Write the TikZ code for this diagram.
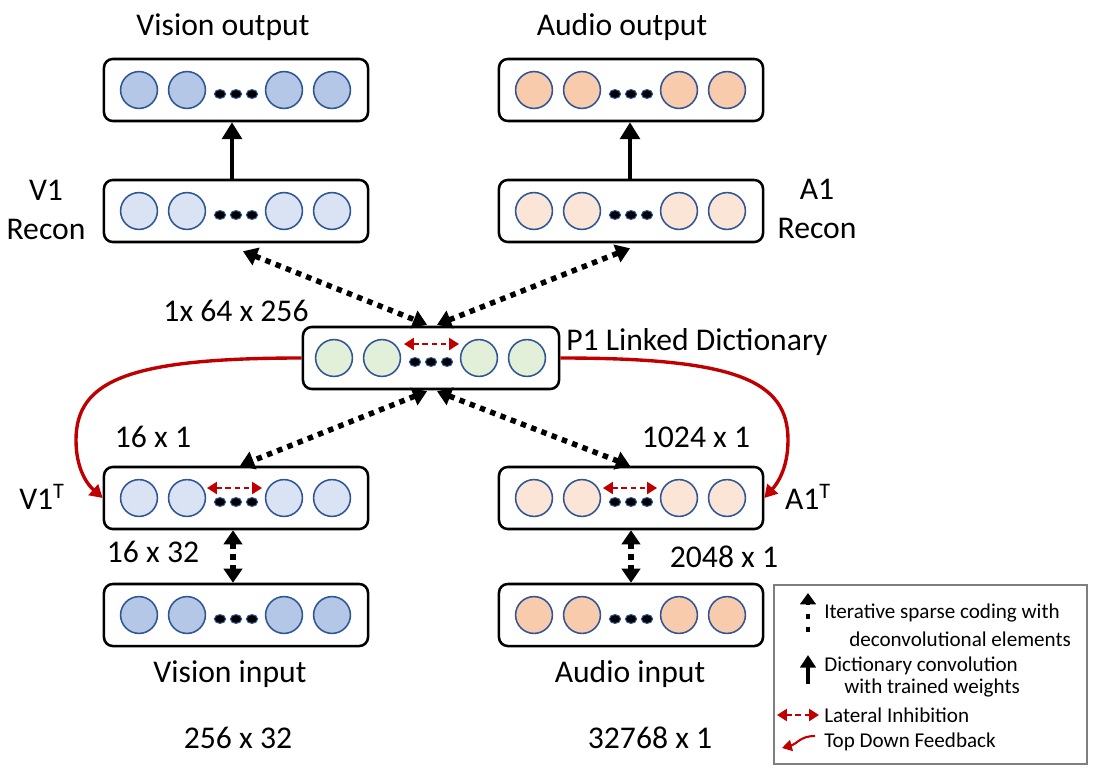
\documentclass[tikz,border=0pt]{standalone}
\usepackage{fontspec}
\setmainfont{Carlito}
\usetikzlibrary{arrows.meta,calc}
\definecolor{vdark}{HTML}{B4C7E7}
\definecolor{vlight}{HTML}{DAE3F3}
\definecolor{adark}{HTML}{F8CBAD}
\definecolor{alight}{HTML}{FBE5D6}
\definecolor{pgreen}{HTML}{E2F0D9}
\definecolor{cborder}{HTML}{2F5597}
\definecolor{cred}{HTML}{C00000}
\definecolor{lgray}{HTML}{7F7F7F}
\newcommand\unitrow[2]{%
  \foreach \dx in {-97,-49,48,96} \draw[unitc, fill=#2] ($(#1.center)+(\dx,0)$) circle[radius=0.46cm];
  \foreach \dx in {-16,0,16} \filldraw[fill=black, draw=cborder, line width=0.7pt] ($(#1.center)+(\dx,4)$) circle[x radius=0.14cm, y radius=0.11cm];
}
\begin{document}
\begin{tikzpicture}[x=0.025cm,y=-0.025cm,
  box/.style={draw, line width=1.8pt, rounded corners=0.22cm, minimum width=6.6cm, minimum height=1.55cm, inner sep=0pt, fill=white},
  lbl/.style={font=\fontsize{22.5}{27.7}\selectfont, inner sep=0pt, align=center},
  leg/.style={font=\fontsize{15}{18}\selectfont, inner sep=0pt, anchor=west},
  unitc/.style={draw=cborder, line width=1.1pt},
  dotarrow/.style={line width=3.9pt, dash pattern=on 3.9pt off 3.9pt, {Triangle[length=10pt,width=13pt]}-{Triangle[length=10pt,width=13pt]}},
  solidarrow/.style={line width=2.8pt, -{Triangle[length=12pt,width=14pt]}},
  lat/.style={draw=cred, line width=1.5pt, dash pattern=on 4pt off 2.5pt, {Triangle[length=7pt,width=8.5pt]}-{Triangle[length=7pt,width=8.5pt]}},
  fb/.style={draw=cred, line width=2.4pt, -{Triangle[length=9pt,width=10pt]}},
]
\useasboundingbox[fill=white] (0,0) rectangle (1104,776);

% boxes
\node[box] (VO) at (236,90) {};
\node[box] (AO) at (631,90) {};
\node[box] (V1R) at (236,211) {};
\node[box] (A1R) at (631,211) {};
\node[box, minimum width=6.4cm] (P1) at (431,358) {};
\node[box] (V1T) at (236,498) {};
\node[box] (A1T) at (631,498) {};
\node[box] (VI) at (236,615) {};
\node[box] (AI) at (631,615) {};

\unitrow{VO}{vdark}
\unitrow{AO}{adark}
\unitrow{V1R}{vlight}
\unitrow{A1R}{alight}
\unitrow{P1}{pgreen}
\unitrow{V1T}{vlight}
\unitrow{A1T}{alight}
\unitrow{VI}{vdark}
\unitrow{AI}{adark}

% lateral inhibition
\draw[lat] ($(P1.center)+(-27,-14)$) -- ($(P1.center)+(28,-14)$);
\draw[lat] ($(V1T.center)+(-29,-10)$) -- ($(V1T.center)+(26,-10)$);
\draw[lat] ($(A1T.center)+(-28,-10)$) -- ($(A1T.center)+(26,-10)$);

% solid arrows
\draw[solidarrow] ($(V1R.north)+(-4,0)$) -- ($(VO.south)+(-4,0)$);
\draw[solidarrow] ($(A1R.north)+(-1,0)$) -- ($(AO.south)+(-1,0)$);

% dotted connectors
\draw[dotarrow] ($(V1R.south)+(7,8)$) -- ($(P1.north)+(-4,-1)$);
\draw[dotarrow] ($(P1.north)+(6,-1)$) -- ($(A1R.south)+(-1,5)$);
\draw[dotarrow] ($(P1.south)+(-4,1)$) -- ($(V1T.north)+(4,0)$);
\draw[dotarrow] ($(P1.south)+(6,1)$) -- ($(A1T.north)+(-1,0)$);
\draw[dotarrow] ($(V1T.south)+(-3,0)$) -- ($(VI.north)+(-3,0)$);
\draw[dotarrow] ($(A1T.south)+(0,0)$) -- ($(AI.north)+(0,0)$);

% feedback curves
\draw[fb] (P1.west) .. controls (130,358) and (76,380) .. (76,440) .. controls (76,470) and (88,485) .. (V1T.west);
\draw[fb] (P1.east) .. controls (735,358) and (788,380) .. (788,440) .. controls (788,470) and (776,485) .. (A1T.east);

% labels
\node[lbl] (tVO) at (223,27) {Vision output};
\node[lbl] (tAO) at (622,27) {Audio output};
\node[lbl] (tV1R) at (46,210) {V1\\Recon};
\node[lbl] (tA1R) at (817,209) {A1\\Recon};
\node[lbl] (tP1s) at (236,311) {1x 64 x 256};
\node[lbl, anchor=west] (tP1) at (566,342) {P1 Linked Dictionary};
\node[lbl] (tV1Ts) at (153,437) {16 x 1};
\node[lbl] (tA1Ts) at (696,437) {1024 x 1};
\node[lbl] (tV1T) at (42,497) {V1\textsuperscript{T}};
\node[lbl] (tA1T) at (808,497) {A1\textsuperscript{T}};
\node[lbl] (tVIs) at (153,552) {16 x 32};
\node[lbl] (tAIs) at (724,557) {2048 x 1};
\node[lbl] (tVI) at (230,674) {Vision input};
\node[lbl] (tAI) at (630,674) {Audio input};
\node[lbl] (tVIn) at (238,738) {256 x 32};
\node[lbl] (tAIn) at (650,738) {32768 x 1};

% legend
\node[draw=lgray, line width=1.4pt, minimum width=7.825cm, minimum height=4.475cm, inner sep=0pt] (legend) at (930.5,674.5) {};
\coordinate (l1a) at (808,632); \coordinate (l1b) at (808,593);
\draw[line width=3.5pt, dash pattern=on 3.5pt off 6pt, -{Triangle[length=8pt,width=11pt]}] (l1a) -- (l1b);
\node[leg] (lt1) at (824,613) {Iterative sparse coding with};
\node[leg] (lt1b) at (849,639) {deconvolutional elements};
\coordinate (l2a) at (808,684); \coordinate (l2b) at (808,655);
\draw[line width=3.5pt, -{Triangle[length=9pt,width=11pt]}] (l2a) -- (l2b);
\node[leg] (lt2) at (824,666) {Dictionary convolution};
\node[leg] (lt2b) at (844,688) {with trained weights};
\coordinate (l3a) at (777,715); \coordinate (l3b) at (819,715);
\draw[lat] (l3a) -- (l3b);
\node[leg] (lt3) at (824,715) {Lateral Inhibition};
\coordinate (l4a) at (815,736); \coordinate (l4b) at (782,748);
\draw[draw=cred, line width=1.5pt, -{Triangle[length=7pt,width=8pt]}] (l4a) .. controls (800,736) and (797,744) .. (l4b);
\node[leg] (lt4) at (824,742) {Top Down Feedback};
\end{tikzpicture}
\end{document}
